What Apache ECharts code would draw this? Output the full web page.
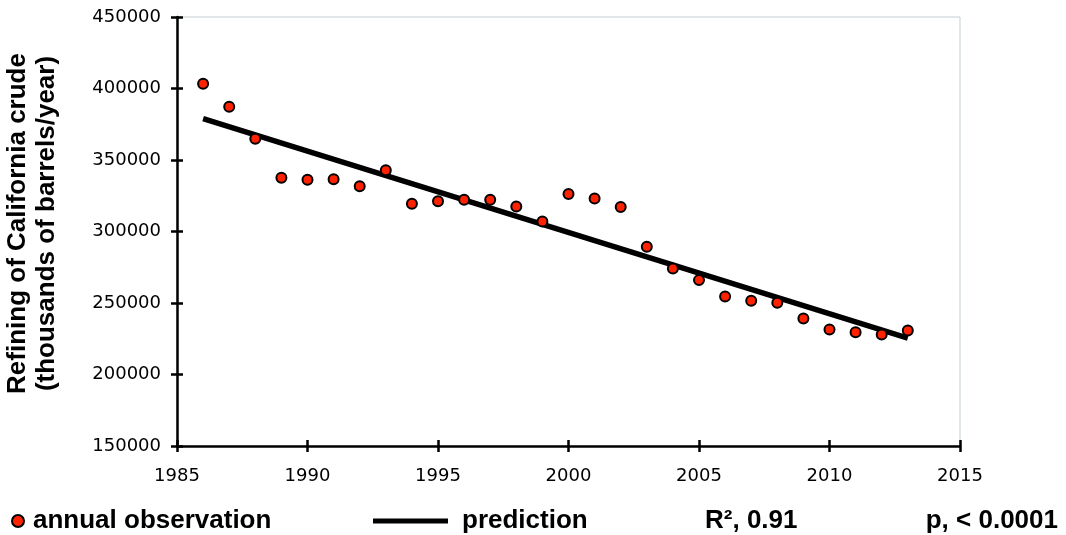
<!DOCTYPE html>
<html>
<head>
<meta charset="utf-8">
<script src="https://cdn.jsdelivr.net/npm/echarts@6/dist/echarts.min.js"></script>
<style>
html,body{margin:0;padding:0;background:#fff;}
#chart{width:1066px;height:535px;}
</style>
</head>
<body>
<div id="chart"></div>
<script>
// Data
const years = [1986,1987,1988,1989,1990,1991,1992,1993,1994,1995,1996,1997,1998,1999,2000,2001,2002,2003,2004,2005,2006,2007,2008,2009,2010,2011,2012,2013];
const observed = [403300,387300,364900,337600,336200,336500,331700,342800,319400,321100,322200,322200,317500,307000,326200,323100,317100,289300,274100,266000,254500,251500,250100,239100,231400,229600,227900,230700];
const predictionYears = [1986, 2013];
const predictionValues = [379000, 225500];
const xTicks = {min:1985, max:2015, interval:5};
const yTicks = {min:150000, max:450000, interval:50000};
const yTitle = 'Refining of California crude\n(thousands of barrels/year)';
const statR2 = 'R\u00B2, 0.91';
const statP = 'p, < 0.0001';

const W = 1066, H = 535;
const chart = echarts.init(document.getElementById('chart'));
const tickFont = {fontFamily:'DejaVu Sans', fontSize:18, color:'#000'};
const boldFont = {fontFamily:'Liberation Sans', fontWeight:'bold', fontSize:26};
const obsData = years.map((y,i)=>[y, observed[i]]);
const predData = predictionYears.map((y,i)=>[y, predictionValues[i]]);

const gridBox = {left:177, right:106, top:17, bottom:89};
const plotW = W - gridBox.left - gridBox.right;
const plotH = H - gridBox.top - gridBox.bottom;
const baseX = {type:'value', min:xTicks.min, max:xTicks.max, interval:xTicks.interval, splitLine:{show:false}};
const baseY = {type:'value', min:yTicks.min, max:yTicks.max, interval:yTicks.interval, splitLine:{show:false}};
const tickStyle = {color:'#000', width:2.5};

chart.setOption({
  animation:false,
  backgroundColor:'#fff',
  grid:Object.assign({show:true, borderColor:'#c4cdd1', borderWidth:1, backgroundColor:'transparent',
    outerBoundsMode:'none', containLabel:false}, gridBox),
  xAxis:[
    Object.assign({}, baseX, {position:'bottom',
      axisLine:{show:true, onZero:false, lineStyle:{color:'#000', width:2.5}},
      axisTick:{show:true, length:6, lineStyle:tickStyle},
      axisLabel:Object.assign({margin:21, formatter:v=>String(v)}, tickFont)}),
    // mirror axis placed on the bottom line so ticks also point into the plot
    Object.assign({}, baseX, {position:'top', offset:-plotH,
      axisLine:{show:true, onZero:false, lineStyle:{color:'rgba(0,0,0,0)', width:0}},
      axisTick:{show:true, inside:false, length:6, lineStyle:tickStyle},
      axisLabel:{show:false}})
  ],
  yAxis:[
    Object.assign({}, baseY, {position:'left',
      axisLine:{show:true, onZero:false, lineStyle:{color:'#000', width:2.5}},
      axisTick:{show:true, length:6, lineStyle:tickStyle},
      axisLabel:Object.assign({margin:16, formatter:v=>String(v)}, tickFont),
      name:yTitle, nameLocation:'middle', nameGap:116, nameRotate:90,
      nameTextStyle:Object.assign({color:'#000', lineHeight:29, padding:[0,0,0,16]}, boldFont)}),
    Object.assign({}, baseY, {position:'right', offset:-plotW,
      axisLine:{show:true, onZero:false, lineStyle:{color:'rgba(0,0,0,0)', width:0}},
      axisTick:{show:true, inside:false, length:6, lineStyle:tickStyle},
      axisLabel:{show:false}})
  ],
  legend:[
    {data:['annual observation'], left:11, top:508, padding:0, icon:'circle', itemWidth:20, itemHeight:12,
     textStyle:Object.assign({color:'#000'}, boldFont)},
    {data:['prediction'], left:373, top:508, padding:0, icon:'rect', itemWidth:75, itemHeight:5,
     textStyle:Object.assign({color:'#000', padding:[0,0,0,9]}, boldFont)}
  ],
  graphic:[
    {type:'text', left:705, top:508, style:Object.assign({text:statR2, fill:'#000'}, boldFont)},
    {type:'text', right:8, top:508, style:Object.assign({text:statP, fill:'#000'}, boldFont)}
  ],
  series:[
    {name:'prediction', type:'line', xAxisIndex:0, yAxisIndex:0, data:predData, symbol:'none', showSymbol:false,
     lineStyle:{color:'#000', width:5.5}, itemStyle:{color:'#000'}, z:2},
    {name:'annual observation', type:'scatter', xAxisIndex:0, yAxisIndex:0, data:obsData, symbol:'circle', symbolSize:10,
     itemStyle:{color:'#ff2200', borderColor:'#000', borderWidth:2, opacity:1}, z:3}
  ]
});
</script>
</body>
</html>
